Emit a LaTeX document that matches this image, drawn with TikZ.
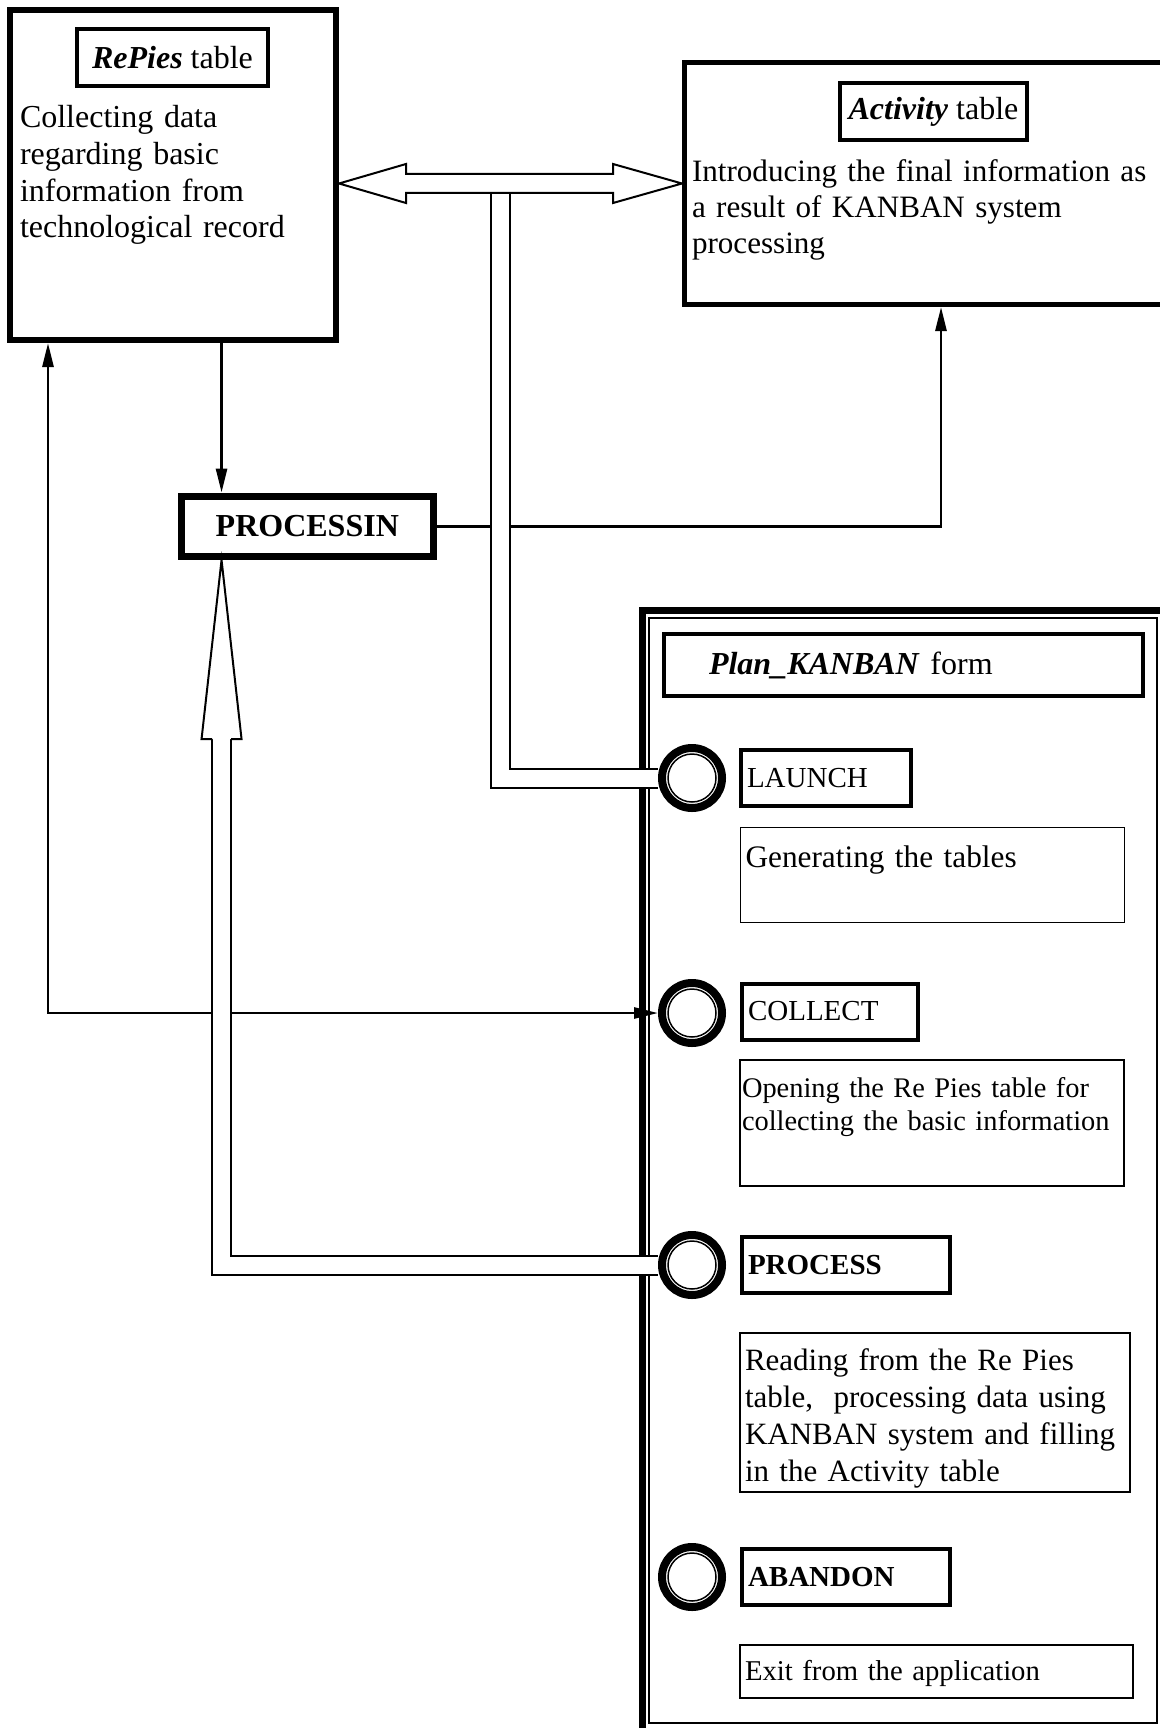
\documentclass[tikz,border=0pt]{standalone}
\usepackage{fontspec}
\setmainfont{Liberation Serif}
\usepackage{tikz}
\usetikzlibrary{arrows.meta,calc,positioning}

\begin{document}
\begin{tikzpicture}[x=0.5pt,y=-0.5pt,>={Triangle[length=12pt,width=5.5pt]},
  every node/.style={font=\fontsize{16pt}{18.3pt}\selectfont},
  tblbox/.style={draw,inner sep=0pt},
  tbox/.style={draw,line width=2pt,inner sep=0pt},
  btn/.style={draw,line width=2pt,inner xsep=3pt,inner ysep=0pt,minimum height=28pt,align=left,font=\fontsize{14.5pt}{17pt}\selectfont},
  desc/.style={draw,line width=0.75pt,inner xsep=2.5pt,inner ysep=0pt,align=left},
  knob/.style={circle,draw,line width=4pt,minimum size=30pt,inner sep=0pt,
    path picture={\draw[line width=0.75pt] (path picture bounding box.center) circle[radius=12pt];}},
  conn/.style={line width=1.4pt},
  pipe/.style={line width=1pt,double,double distance=8.5pt},
  hollow/.style={draw,fill=white,line width=1pt}]
  \useasboundingbox (0,0) rectangle (1160,1728);
  \clip (0,0) rectangle (1160,1728);

  % tables
  \node[tblbox,line width=3pt,minimum width=163pt,minimum height=165pt,text width=153pt,inner xsep=5pt,text height=59pt,text depth=106pt,align=left] (rep) at (173,175) {Collecting data\\regarding basic\\information from\\technological record};
  \node[tbox,minimum width=95.5pt,minimum height=28.5pt] (rept) at (172.5,57.5) {\textbf{\textit{RePies}} table};
  \node[tblbox,line width=2.5pt,minimum width=245.25pt,minimum height=121pt,text width=237.75pt,inner xsep=3.75pt,text height=59.75pt,text depth=61.25pt,align=left,font=\fontsize{15.55pt}{18pt}\selectfont] (act) at (929.75,183.5) {Introducing the final information as\\a result of KANBAN system\\processing};
  \node[tbox,minimum width=93.5pt,minimum height=28.5pt] (actt) at (933.5,111.5) {\textbf{\textit{Activity}} table};
  \node[tblbox,line width=3.5pt,minimum width=126.25pt,minimum height=30.25pt] (proc) at (307.3,526.3) {\textbf{PROCESSIN}};

  % form
  \node[draw,line width=3.5pt,inner sep=0pt,minimum width=261pt,minimum height=560.75pt] (formo) at (903.5,1171.25) {};
  \node[draw,line width=0.75pt,inner sep=0pt,minimum width=254pt,minimum height=552.5pt] (form) at (903,1170.5) {};
  \node[tbox,minimum width=239.5pt,minimum height=31pt,text width=194.5pt,inner xsep=22.5pt,align=left] (ftit) at (903.5,665) {\textbf{\textit{Plan\_KANBAN}} form};

  \node[knob] (lk) at (692,778) {};
  \node[btn,text width=79pt] (lbtn) at (826,778) {LAUNCH};
  \node[desc,text width=187pt,text height=19.75pt,text depth=27.75pt,font=\fontsize{15.65pt}{18pt}\selectfont] (ld) at (932.5,875) {Generating the tables};

  \node[knob] (ck) at (692,1013) {};
  \node[btn,text width=82pt] (cbtn) at (830,1011.5) {COLLECT};
  \node[desc,text width=190pt,inner xsep=1pt,text height=18.5pt,text depth=44.5pt,font=\fontsize{14.2pt}{16.5pt}\selectfont] (cd) at (932,1123) {Opening the Re Pies table for\\collecting the basic information};

  \node[knob] (pk) at (692,1265) {};
  \node[btn,text width=98pt] (pbtn) at (846,1265) {\textbf{PROCESS}};
  \node[desc,text width=190pt,text height=18.5pt,text depth=61pt,font=\fontsize{15.5pt}{18.65pt}\selectfont] (pd) at (935,1412.5) {Reading from the Re Pies\\table,~ processing data using\\KANBAN system and filling\\in the Activity table};

  \node[knob] (ak) at (692,1577) {};
  \node[btn,text width=98pt] (abtn) at (846,1577) {\textbf{ABANDON}};
  \node[desc,text width=191.5pt,text height=17.5pt,text depth=9pt,font=\fontsize{14.35pt}{17pt}\selectfont] (ad) at (936.5,1671.5) {Exit from the application};

  % connectors
  \coordinate (pin) at ($(proc.north west)+(44,0)$);
  \draw[conn,->] (rep.south -| pin) -- (pin);
  \coordinate (aup) at ($(act.south west)+(259,0)$);
  \draw[conn,->] (proc.east) -| (aup);
  \coordinate (lft) at ($(rep.south west)+(41,0)$);
  \draw[conn,<->] (lft) |- (ck.west);

  % pipes
  \coordinate (bus) at ($(rep.east |- act.west)+(161,9.5)$);
  \draw[pipe] (bus) |- (lk.west);
  \coordinate (hb) at ($(proc.south -| pin)+(0,179)$);
  \draw[pipe] (pk.west) -| (hb);

  \draw[hollow] (rep.east |- act.west) -- ++(67,-19.5) -- ++(0,10) -- ($(act.west)+(-69,-9.5)$) -- ++(0,-10) -- (act.west) -- ++(-69,19.5) -- ++(0,-10) -- ($(rep.east |- act.west)+(67,9.5)$) -- ++(0,10) -- cycle;
  \draw[hollow] ($(hb)+(-9.5,0)$) -- ++(-10.5,0) -- (proc.south -| pin) -- ($(hb)+(20,0)$) -- ++(-10.5,0);
\end{tikzpicture}
\end{document}
